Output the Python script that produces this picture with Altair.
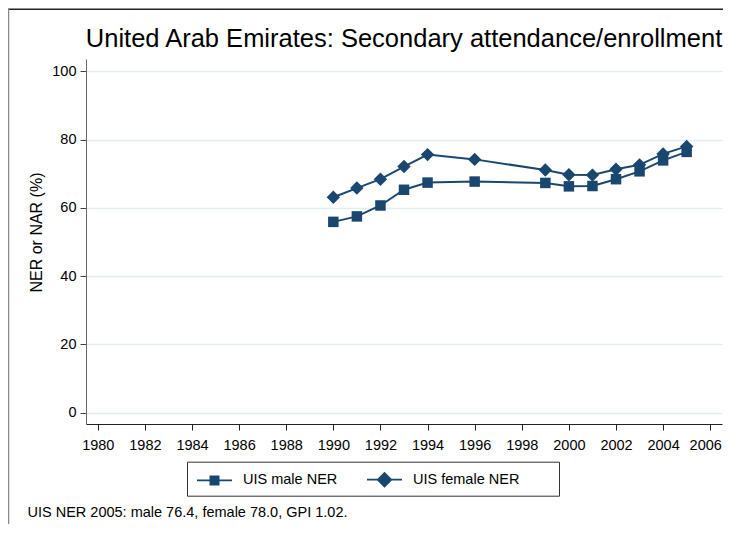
import altair as alt
import pandas as pd

years = [1990, 1991, 1992, 1993, 1994, 1996, 1999, 2000, 2001, 2002, 2003, 2004, 2005]
male_ner = [55.9, 57.5, 60.7, 65.3, 67.4, 67.7, 67.3, 66.3, 66.4, 68.4, 70.7, 73.9, 76.4]
female_ner = [63.1, 65.8, 68.4, 72.1, 75.6, 74.2, 71.1, 69.7, 69.6, 71.3, 72.6, 75.8, 78.0]
series_names = ["UIS male NER", "UIS female NER"]
x_ticks = list(range(1980, 2007, 2))
y_ticks = [0, 20, 40, 60, 80, 100]
title_text = "United Arab Emirates: Secondary attendance/enrollment"
note_text = "UIS NER 2005: male 76.4, female 78.0, GPI 1.02."

rows = []
for name, vals in zip(series_names, [male_ner, female_ner]):
    for yr, v in zip(years, vals):
        rows.append({"year": yr, "value": v, "series": name, "legend": name})
df = pd.DataFrame(rows)

NAVY = "#1a476f"
FONT = "Liberation Sans"

x_enc = alt.X("year:Q",
              scale=alt.Scale(domain=[1979.5, 2006.5], nice=False, zero=False),
              axis=alt.Axis(values=x_ticks, format="d", labelFontSize=14.5,
                            labelColor="#000", tickSize=6, tickColor="#222",
                            domainColor="#222", labelPadding=8, grid=False,
                            labelOverlap=False, labelFlush=False,
                            labelOffset={"condition": {"test": "datum.value == 2006",
                                                       "value": -5},
                                         "value": 0},
                            title=note_text, titleFontSize=14.5,
                            titleFontWeight="normal", titleColor="#000",
                            titleX=-59, titleY=88, titleAlign="left",
                            titleBaseline="middle", titleAnchor="start"))
y_enc = alt.Y("value:Q",
              scale=alt.Scale(domain=[-3.3, 103.6], nice=False, zero=False),
              axis=alt.Axis(values=y_ticks, labelFontSize=14.5, labelColor="#000",
                            tickSize=6, tickColor="#444", domainColor="#666",
                            labelPadding=4, grid=True, gridColor="#e4ecef",
                            gridWidth=1.3, title="NER or NAR (%)",
                            titleFontSize=16, titleFontWeight="normal",
                            titleColor="#000", titleAngle=270, titleX=-50,
                            titleY=173, titleAlign="center",
                            titleBaseline="middle"))

base = alt.Chart(df)

lines = base.mark_line(color=NAVY, strokeWidth=2).encode(
    x=x_enc, y=y_enc, detail="series:N")

points = base.mark_point(filled=True, color=NAVY, opacity=1).encode(
    x=x_enc, y=y_enc,
    shape=alt.Shape("series:N",
                    scale=alt.Scale(domain=series_names, range=["square", "diamond"]),
                    legend=None),
    size=alt.Size("series:N",
                  scale=alt.Scale(domain=series_names, range=[110, 180]),
                  legend=None))

# legend glyphs: a short line with a marker, drawn as filled paths (unit = 10 px);
# the trailing move-to on the second glyph only widens the legend frame
line_part = "M-0.8,-0.09H2.7V0.09H-0.8Z"
male_path = line_part + "M0.45,-0.5H1.45V0.5H0.45Z"
female_path = line_part + "M0.95,-0.8L1.75,0L0.95,0.8L0.15,0ZM17.6,0"

legend_layer = base.transform_filter("false").mark_point(
    filled=True, color=NAVY, opacity=1, size=400, strokeWidth=0
).encode(
    x=x_enc, y=y_enc,
    shape=alt.Shape("legend:N",
                    scale=alt.Scale(domain=series_names, range=[male_path, female_path]),
                    legend=alt.Legend(orient="none", legendX=101, legendY=402.7,
                                      direction="horizontal", columns=2,
                                      title=None, symbolSize=400,
                                      symbolStrokeWidth=0,
                                      symbolFillColor=NAVY,
                                      symbolOpacity=1,
                                      labelFontSize=14.5, labelColor="#000",
                                      labelOffset=28, columnPadding=27,
                                      padding=8, strokeColor="#333")))

frame_df = pd.DataFrame({"k": [0]})
frame_top = alt.Chart(frame_df).mark_rule(color="#222", strokeWidth=1.5).encode(
    x=alt.value(-78), x2=alt.value(640), y=alt.value(-49.7))
frame_left = alt.Chart(frame_df).mark_rule(color="#888", strokeWidth=1.5).encode(
    x=alt.value(-77.5), y=alt.value(-50), y2=alt.value(465))

chart = alt.layer(frame_top, frame_left, lines, points, legend_layer).resolve_scale(
    shape="independent", size="independent"
).properties(
    width=636, height=365,
    autosize=alt.AutoSizeParams(type="none"),
    padding={"left": 78, "top": 51, "right": 1, "bottom": 100},
    title=alt.TitleParams(title_text, fontSize=25.5, font=FONT, fontWeight="normal",
                          color="#000", anchor="middle", frame="group",
                          baseline="alphabetic", offset=0, dy=64.6),
).configure(
    font=FONT, background="white"
).configure_view(stroke=None)

chart.save("out.html", embed_options={"renderer": "svg", "actions": False})
